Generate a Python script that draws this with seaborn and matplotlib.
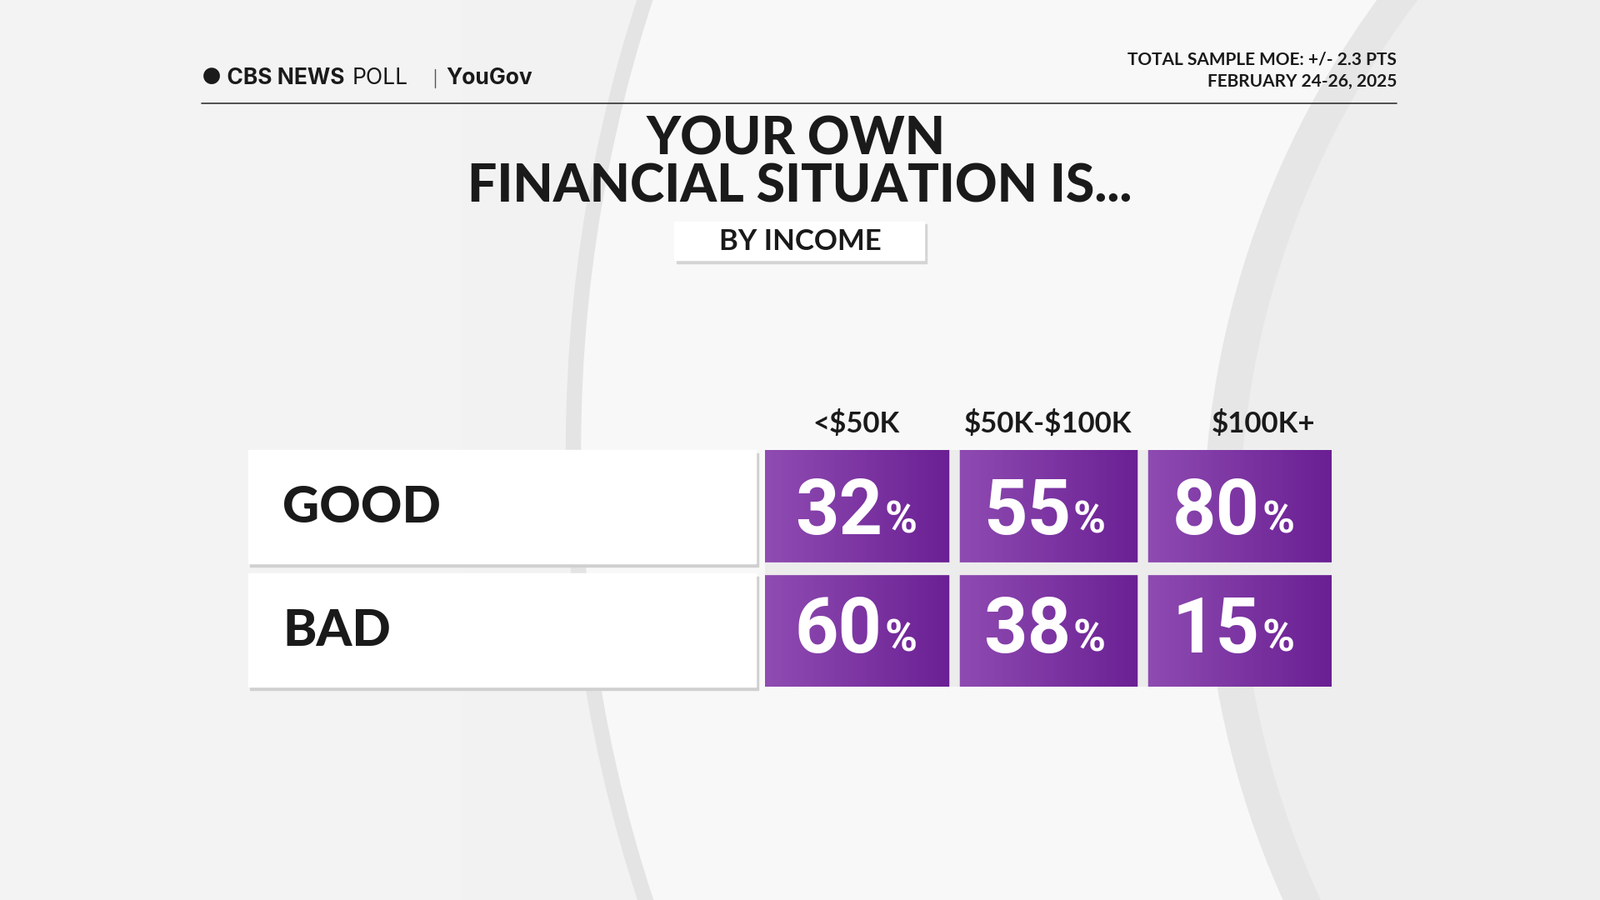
import numpy as np
import pandas as pd
import matplotlib
matplotlib.use("Agg")
import matplotlib.pyplot as plt
import matplotlib.patches as mpatches
import seaborn as sns

rows = ["GOOD", "BAD"]
columns = ["<$50K", "$50K-$100K", "$100K+"]
good = [32, 55, 80]
bad = [60, 38, 15]

W, H = 1568, 882
sns.set_theme(style="white")
plt.rcParams["text.parse_math"] = False
fig = plt.figure(figsize=(19.2, 10.8), dpi=100)
ax = fig.add_axes([0, 0, 1, 1])
ax.set_xlim(0, W)
ax.set_ylim(H, 0)
ax.axis("off")

# background with soft arcs
bg = np.linspace(0.955, 0.935, 256)[None, :]
ax.imshow(bg, extent=[0, W, H, 0], cmap="gray", vmin=0, vmax=1, aspect="auto", zorder=0)
ax.add_patch(mpatches.Circle((1980, 440), 1425, color="#e4e4e4", zorder=0.5))
ax.add_patch(mpatches.Circle((1980, 440), 1410, color="#f8f8f8", zorder=0.6))
ax.add_patch(mpatches.Circle((2060, 520), 880, color="#e6e6e6", zorder=0.7))
ax.add_patch(mpatches.Circle((2075, 520), 860, color="#eeeeee", zorder=0.8))

# header
ax.text(198, 77, "● CBS NEWS", fontsize=19, fontweight="bold", family="Inter", va="center", color="#1a1a1a", zorder=3)
ax.text(345, 77, "POLL", fontsize=19, family="Inter", va="center", color="#1a1a1a", zorder=3)
ax.plot([426, 426], [68, 86], color="#555", lw=1, zorder=3)
ax.text(437, 77, "YouGov", fontsize=19, fontweight="bold", family="Inter", va="center", color="#1a1a1a", zorder=3)
ax.text(1369, 58, "TOTAL SAMPLE MOE: +/- 2.3 PTS", fontsize=15, family="Lato", fontweight="bold", ha="right", va="center", color="#1a1a1a", zorder=3)
ax.text(1369, 80, "FEBRUARY 24-26, 2025", fontsize=15, family="Lato", fontweight="bold", ha="right", va="center", color="#1a1a1a", zorder=3)
ax.plot([198, 1369], [101, 101], color="#333", lw=1.2, zorder=3)

ax.text(780, 137, "YOUR OWN", fontsize=45, fontweight="black", family="Lato", ha="center", va="center", color="#1a1a1a", zorder=3)
ax.text(784, 183, "FINANCIAL SITUATION IS...", fontsize=45, fontweight="black", family="Lato", ha="center", va="center", color="#1a1a1a", zorder=3)
ax.add_patch(mpatches.Rectangle((663, 220), 245, 38, color="#d4d4d4", zorder=2.9))
ax.add_patch(mpatches.Rectangle((661, 217), 245, 38, color="white", zorder=3))
ax.text(784, 237, "BY INCOME", fontsize=25, fontweight="bold", family="Lato", ha="center", va="center", color="#1a1a1a", zorder=4)

# table via seaborn heatmap placed over cell region
xl, xr, yt, yb = 750, 1305, 441, 673
hax = fig.add_axes([xl / W, 1 - yb / H, (xr - xl) / W, (yb - yt) / H])
df = pd.DataFrame([good, bad], index=rows, columns=columns)
sns.heatmap(df, ax=hax, cmap=matplotlib.colors.ListedColormap(["#7d35a6"]), cbar=False, annot=False)
hax.axis("off")
grad = np.linspace(0, 1, 64)[None, :]
pcmap = matplotlib.colors.LinearSegmentedColormap.from_list("p", ["#8f4cb2", "#6a1f93"])
for i, vals in enumerate([good, bad]):
    for j, v in enumerate(vals):
        hax.imshow(grad, cmap=pcmap, aspect="auto", zorder=2, extent=[j, j + 1, i + 1, i])
        hax.text(j + 0.62, i + 0.53, f"{v}", fontsize=66, fontweight="bold", family="Roboto",
                 ha="right", va="center", color="white", zorder=3)
        hax.text(j + 0.63, i + 0.60, "%", fontsize=38, fontweight="bold", family="Roboto",
                 ha="left", va="center", color="white", zorder=3)
hax.set_xlim(0, 3)
hax.set_ylim(2, 0)
gapc = "#ececec"
for k in (1, 2):
    hax.axvline(k, color=gapc, lw=9, zorder=4)
hax.axhline(1, color=gapc, lw=11, zorder=4)

for i, lab in enumerate(rows):
    y0 = yt + i * 121
    ax.add_patch(mpatches.Rectangle((245, y0 + 3), 498, 111, color="#d0d0d0", zorder=2))
    ax.add_patch(mpatches.Rectangle((243, y0), 498, 111, color="white", zorder=2.5))
    ax.text(277, y0 + 56, lab, fontsize=44, fontweight="black", family="Lato", va="center", color="#1a1a1a", zorder=3)

for j, c in enumerate(columns):
    ax.text([839, 1027, 1238][j], 415, c, fontsize=25, fontweight="bold", family="Lato",
            ha="center", va="center", color="#1a1a1a", zorder=3)

fig.savefig("out.png", dpi=100)
